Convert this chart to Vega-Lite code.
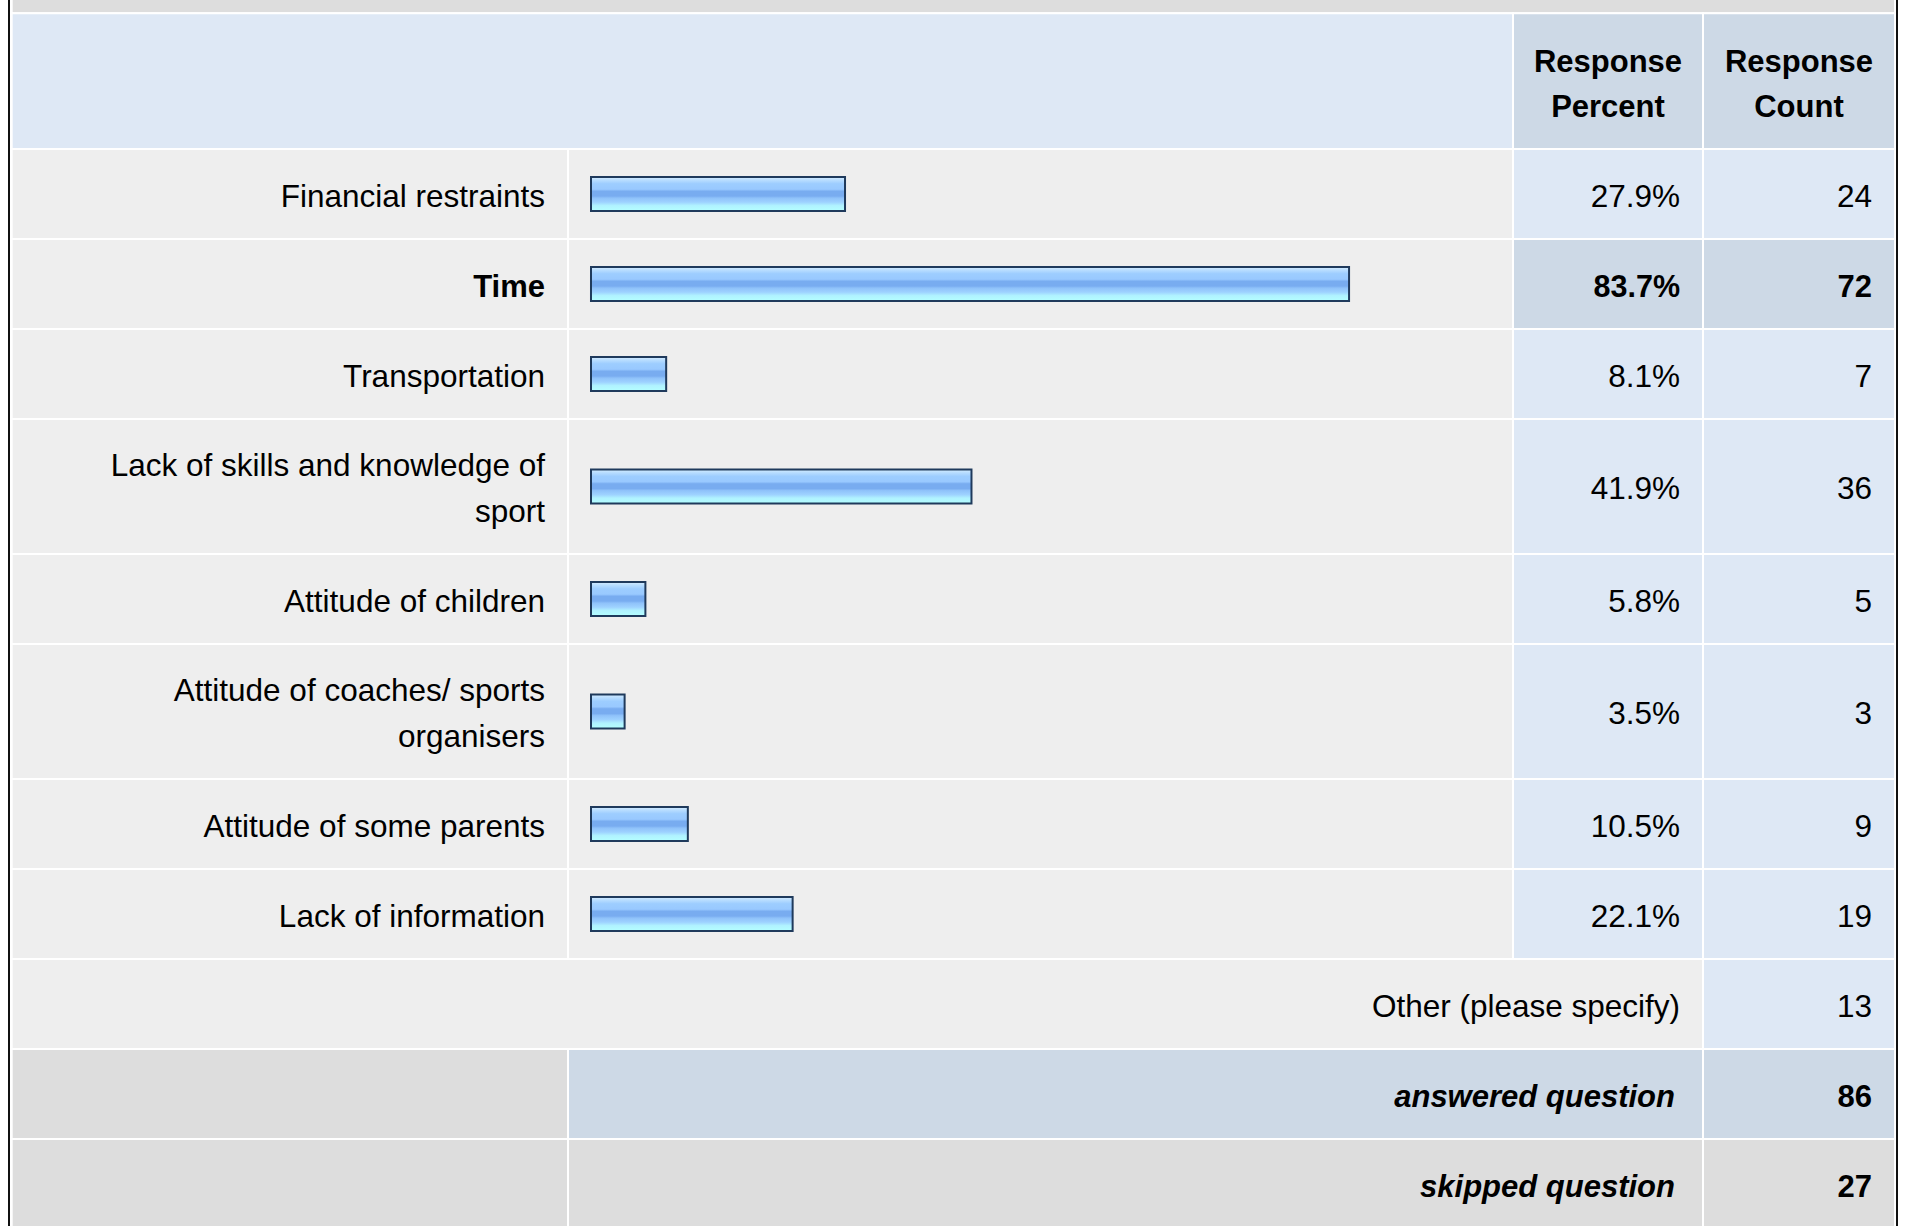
{
  "$schema": "https://vega.github.io/schema/vega-lite/v6.json",
  "width": 1909,
  "height": 1226,
  "autosize": {"type": "none"},
  "padding": 0,
  "background": "#ffffff",
  "config": {
    "view": {"stroke": null},
    "text": {"font": "Liberation Sans", "fontSize": 31.5, "fill": "#000000"}
  },
  "datasets": {
    "options": [
      {"row": 1, "label": "Financial restraints", "pct": 0.279, "count": 24},
      {"row": 2, "label": "Time", "pct": 0.837, "count": 72},
      {"row": 3, "label": "Transportation", "pct": 0.081, "count": 7},
      {"row": 4, "label": "Lack of skills and knowledge of\nsport", "pct": 0.419, "count": 36},
      {"row": 5, "label": "Attitude of children", "pct": 0.058, "count": 5},
      {"row": 6, "label": "Attitude of coaches/ sports\norganisers", "pct": 0.035, "count": 3},
      {"row": 7, "label": "Attitude of some parents", "pct": 0.105, "count": 9},
      {"row": 8, "label": "Lack of information", "pct": 0.221, "count": 19}
    ],
    "summary": [
      {"row": 9, "label": "Other (please specify)", "count": 13, "kind": "other"},
      {"row": 10, "label": "answered question", "count": 86, "kind": "total"},
      {"row": 11, "label": "skipped question", "count": 27, "kind": "total"}
    ],
    "cells": [
      {"row": -1, "c0": 0, "c1": 4, "role": "frame"},
      {"row": 0, "c0": 0, "c1": 2, "role": "head"},
      {"row": 0, "c0": 2, "c1": 3, "role": "head value", "text": "Response\nPercent"},
      {"row": 0, "c0": 3, "c1": 4, "role": "head value", "text": "Response\nCount"},
      {"row": 1, "c0": 0, "c1": 1, "role": "option"},
      {"row": 1, "c0": 1, "c1": 2, "role": "option"},
      {"row": 1, "c0": 2, "c1": 3, "role": "value"},
      {"row": 1, "c0": 3, "c1": 4, "role": "value"},
      {"row": 2, "c0": 0, "c1": 1, "role": "option"},
      {"row": 2, "c0": 1, "c1": 2, "role": "option"},
      {"row": 2, "c0": 2, "c1": 3, "role": "top value"},
      {"row": 2, "c0": 3, "c1": 4, "role": "top value"},
      {"row": 3, "c0": 0, "c1": 1, "role": "option"},
      {"row": 3, "c0": 1, "c1": 2, "role": "option"},
      {"row": 3, "c0": 2, "c1": 3, "role": "value"},
      {"row": 3, "c0": 3, "c1": 4, "role": "value"},
      {"row": 4, "c0": 0, "c1": 1, "role": "option"},
      {"row": 4, "c0": 1, "c1": 2, "role": "option"},
      {"row": 4, "c0": 2, "c1": 3, "role": "value"},
      {"row": 4, "c0": 3, "c1": 4, "role": "value"},
      {"row": 5, "c0": 0, "c1": 1, "role": "option"},
      {"row": 5, "c0": 1, "c1": 2, "role": "option"},
      {"row": 5, "c0": 2, "c1": 3, "role": "value"},
      {"row": 5, "c0": 3, "c1": 4, "role": "value"},
      {"row": 6, "c0": 0, "c1": 1, "role": "option"},
      {"row": 6, "c0": 1, "c1": 2, "role": "option"},
      {"row": 6, "c0": 2, "c1": 3, "role": "value"},
      {"row": 6, "c0": 3, "c1": 4, "role": "value"},
      {"row": 7, "c0": 0, "c1": 1, "role": "option"},
      {"row": 7, "c0": 1, "c1": 2, "role": "option"},
      {"row": 7, "c0": 2, "c1": 3, "role": "value"},
      {"row": 7, "c0": 3, "c1": 4, "role": "value"},
      {"row": 8, "c0": 0, "c1": 1, "role": "option"},
      {"row": 8, "c0": 1, "c1": 2, "role": "option"},
      {"row": 8, "c0": 2, "c1": 3, "role": "value"},
      {"row": 8, "c0": 3, "c1": 4, "role": "value"},
      {"row": 9, "c0": 0, "c1": 3, "role": "option"},
      {"row": 9, "c0": 3, "c1": 4, "role": "value"},
      {"row": 10, "c0": 0, "c1": 1, "role": "total"},
      {"row": 10, "c0": 1, "c1": 3, "role": "answered"},
      {"row": 10, "c0": 3, "c1": 4, "role": "answered"},
      {"row": 11, "c0": 0, "c1": 1, "role": "total"},
      {"row": 11, "c0": 1, "c1": 3, "role": "total"},
      {"row": 11, "c0": 3, "c1": 4, "role": "total"}
    ],
    "edges": [{"edge": -1}, {"edge": 5}]
  },
  "resolve": {"scale": {"x": "independent"}},
  "layer": [
    {
      "data": {"name": "cells"},
      "transform": [{"calculate": "datum.row + 1", "as": "row_end"}],
      "mark": {"type": "rect", "stroke": "#ffffff", "strokeWidth": 2},
      "encoding": {
        "x": {"field": "c0", "type": "quantitative", "axis": null, "scale": {"domain": [-1, 0, 1, 2, 3, 4, 5], "range": [9, 11.7, 568, 1513, 1703, 1895, 1897], "nice": false, "zero": false}},
        "x2": {"field": "c1"},
        "y": {"field": "row", "type": "quantitative", "axis": null, "scale": {"domain": [-1, 0, 1, 2, 3, 4, 5, 6, 7, 8, 9, 10, 11, 12], "range": [-20, 13.3, 149, 239, 329, 419, 554, 644, 779, 869, 959, 1049, 1139, 1229], "nice": false, "zero": false}},
        "y2": {"field": "row_end"},
        "fill": {"field": "role", "type": "nominal", "legend": null, "scale": {"domain": ["frame", "head", "head value", "option", "value", "top value", "answered", "total"], "range": ["#dddddd", "#dee8f5", "#cdd9e6", "#eeeeee", "#dee8f5", "#cdd9e6", "#cdd9e6", "#dddddd"]}}
      }
    },
    {
      "data": {"name": "edges"},
      "mark": {"type": "rule", "color": "#111111", "strokeWidth": 2},
      "encoding": {
        "x": {"field": "edge", "type": "quantitative", "axis": null, "scale": {"domain": [-1, 0, 1, 2, 3, 4, 5], "range": [9, 11.7, 568, 1513, 1703, 1895, 1897], "nice": false, "zero": false}}
      }
    },
    {
      "data": {"name": "cells"},
      "transform": [
        {"filter": "isValid(datum.text)"},
        {"calculate": "(datum.c0 + datum.c1) / 2", "as": "cmid"},
        {"calculate": "datum.row + 0.5", "as": "mid"}
      ],
      "mark": {"type": "text", "align": "center", "baseline": "middle", "fontWeight": "bold", "fontSize": 31, "lineBreak": "\n", "lineHeight": 45, "dy": -18},
      "encoding": {
        "x": {"field": "cmid", "type": "quantitative", "axis": null, "scale": {"domain": [-1, 0, 1, 2, 3, 4, 5], "range": [9, 11.7, 568, 1513, 1703, 1895, 1897], "nice": false, "zero": false}},
        "y": {"field": "mid", "type": "quantitative", "axis": null, "scale": {"domain": [-1, 0, 1, 2, 3, 4, 5, 6, 7, 8, 9, 10, 11, 12], "range": [-20, 13.3, 149, 239, 329, 419, 554, 644, 779, 869, 959, 1049, 1139, 1229], "nice": false, "zero": false}},
        "text": {"field": "text", "type": "nominal"}
      }
    },
    {
      "data": {"name": "options"},
      "transform": [{"calculate": "datum.row + 0.5", "as": "mid"}],
      "mark": {
        "type": "rect",
        "stroke": "#1f3a5c",
        "strokeWidth": 2,
        "yOffset": -17,
        "y2Offset": 17,
        "x2Offset": -2,
        "fill": {
          "gradient": "linear", "x1": 0, "y1": 0, "x2": 0, "y2": 1,
          "stops": [
            {"offset": 0, "color": "#d4ecff"},
            {"offset": 0.1, "color": "#b6dcff"},
            {"offset": 0.2, "color": "#9dcdff"},
            {"offset": 0.36, "color": "#99c9ff"},
            {"offset": 0.42, "color": "#78acf0"},
            {"offset": 0.56, "color": "#78acf0"},
            {"offset": 0.62, "color": "#8fc2fa"},
            {"offset": 0.74, "color": "#9ed2ff"},
            {"offset": 0.84, "color": "#b0f2ff"},
            {"offset": 1, "color": "#b4ffff"}
          ]
        }
      },
      "encoding": {
        "x": {"field": "pct", "type": "quantitative", "axis": null, "scale": {"domain": [0, 1], "range": [593, 1496.3], "nice": false, "zero": false}},
        "x2": {"datum": 0},
        "y": {"field": "mid", "type": "quantitative", "axis": null, "scale": {"domain": [-1, 0, 1, 2, 3, 4, 5, 6, 7, 8, 9, 10, 11, 12], "range": [-20, 13.3, 149, 239, 329, 419, 554, 644, 779, 869, 959, 1049, 1139, 1229], "nice": false, "zero": false}},
        "y2": {"field": "mid"}
      }
    },
    {
      "data": {"name": "options"},
      "transform": [
        {"joinaggregate": [{"op": "max", "field": "count", "as": "maxCount"}]},
        {"filter": "datum.count < datum.maxCount && indexof(datum.label, '\\n') < 0"},
        {"calculate": "datum.row + 0.5", "as": "mid"}
      ],
      "mark": {"type": "text", "align": "right", "baseline": "middle", "dx": -23, "dy": 3.5},
      "encoding": {
        "x": {"datum": 1, "type": "quantitative", "axis": null, "scale": {"domain": [-1, 0, 1, 2, 3, 4, 5], "range": [9, 11.7, 568, 1513, 1703, 1895, 1897], "nice": false, "zero": false}},
        "y": {"field": "mid", "type": "quantitative", "axis": null, "scale": {"domain": [-1, 0, 1, 2, 3, 4, 5, 6, 7, 8, 9, 10, 11, 12], "range": [-20, 13.3, 149, 239, 329, 419, 554, 644, 779, 869, 959, 1049, 1139, 1229], "nice": false, "zero": false}},
        "text": {"field": "label", "type": "nominal"}
      }
    },
    {
      "data": {"name": "options"},
      "transform": [
        {"joinaggregate": [{"op": "max", "field": "count", "as": "maxCount"}]},
        {"filter": "datum.count < datum.maxCount && indexof(datum.label, '\\n') >= 0"},
        {"calculate": "datum.row + 0.5", "as": "mid"}
      ],
      "mark": {"type": "text", "align": "right", "baseline": "middle", "dx": -23, "dy": -20, "lineBreak": "\n", "lineHeight": 46},
      "encoding": {
        "x": {"datum": 1, "type": "quantitative", "axis": null, "scale": {"domain": [-1, 0, 1, 2, 3, 4, 5], "range": [9, 11.7, 568, 1513, 1703, 1895, 1897], "nice": false, "zero": false}},
        "y": {"field": "mid", "type": "quantitative", "axis": null, "scale": {"domain": [-1, 0, 1, 2, 3, 4, 5, 6, 7, 8, 9, 10, 11, 12], "range": [-20, 13.3, 149, 239, 329, 419, 554, 644, 779, 869, 959, 1049, 1139, 1229], "nice": false, "zero": false}},
        "text": {"field": "label", "type": "nominal"}
      }
    },
    {
      "data": {"name": "options"},
      "transform": [
        {"joinaggregate": [{"op": "max", "field": "count", "as": "maxCount"}]},
        {"filter": "datum.count < datum.maxCount"},
        {"calculate": "datum.row + 0.5", "as": "mid"}
      ],
      "mark": {"type": "text", "align": "right", "baseline": "middle", "dx": -23, "dy": 3.5},
      "encoding": {
        "x": {"datum": 3, "type": "quantitative", "axis": null, "scale": {"domain": [-1, 0, 1, 2, 3, 4, 5], "range": [9, 11.7, 568, 1513, 1703, 1895, 1897], "nice": false, "zero": false}},
        "y": {"field": "mid", "type": "quantitative", "axis": null, "scale": {"domain": [-1, 0, 1, 2, 3, 4, 5, 6, 7, 8, 9, 10, 11, 12], "range": [-20, 13.3, 149, 239, 329, 419, 554, 644, 779, 869, 959, 1049, 1139, 1229], "nice": false, "zero": false}},
        "text": {"field": "pct", "type": "quantitative", "format": ".1%"}
      }
    },
    {
      "data": {"name": "options"},
      "transform": [
        {"joinaggregate": [{"op": "max", "field": "count", "as": "maxCount"}]},
        {"filter": "datum.count < datum.maxCount"},
        {"calculate": "datum.row + 0.5", "as": "mid"}
      ],
      "mark": {"type": "text", "align": "right", "baseline": "middle", "dx": -23, "dy": 3.5},
      "encoding": {
        "x": {"datum": 4, "type": "quantitative", "axis": null, "scale": {"domain": [-1, 0, 1, 2, 3, 4, 5], "range": [9, 11.7, 568, 1513, 1703, 1895, 1897], "nice": false, "zero": false}},
        "y": {"field": "mid", "type": "quantitative", "axis": null, "scale": {"domain": [-1, 0, 1, 2, 3, 4, 5, 6, 7, 8, 9, 10, 11, 12], "range": [-20, 13.3, 149, 239, 329, 419, 554, 644, 779, 869, 959, 1049, 1139, 1229], "nice": false, "zero": false}},
        "text": {"field": "count", "type": "quantitative", "format": "d"}
      }
    },
    {
      "data": {"name": "options"},
      "transform": [
        {"joinaggregate": [{"op": "max", "field": "count", "as": "maxCount"}]},
        {"filter": "datum.count == datum.maxCount"},
        {"calculate": "datum.row + 0.5", "as": "mid"}
      ],
      "mark": {"type": "text", "align": "right", "baseline": "middle", "dx": -23, "dy": 3.5, "fontWeight": "bold", "fontSize": 31},
      "encoding": {
        "x": {"datum": 1, "type": "quantitative", "axis": null, "scale": {"domain": [-1, 0, 1, 2, 3, 4, 5], "range": [9, 11.7, 568, 1513, 1703, 1895, 1897], "nice": false, "zero": false}},
        "y": {"field": "mid", "type": "quantitative", "axis": null, "scale": {"domain": [-1, 0, 1, 2, 3, 4, 5, 6, 7, 8, 9, 10, 11, 12], "range": [-20, 13.3, 149, 239, 329, 419, 554, 644, 779, 869, 959, 1049, 1139, 1229], "nice": false, "zero": false}},
        "text": {"field": "label", "type": "nominal"}
      }
    },
    {
      "data": {"name": "options"},
      "transform": [
        {"joinaggregate": [{"op": "max", "field": "count", "as": "maxCount"}]},
        {"filter": "datum.count == datum.maxCount"},
        {"calculate": "datum.row + 0.5", "as": "mid"}
      ],
      "mark": {"type": "text", "align": "right", "baseline": "middle", "dx": -23, "dy": 3.5, "fontWeight": "bold", "fontSize": 30.5},
      "encoding": {
        "x": {"datum": 3, "type": "quantitative", "axis": null, "scale": {"domain": [-1, 0, 1, 2, 3, 4, 5], "range": [9, 11.7, 568, 1513, 1703, 1895, 1897], "nice": false, "zero": false}},
        "y": {"field": "mid", "type": "quantitative", "axis": null, "scale": {"domain": [-1, 0, 1, 2, 3, 4, 5, 6, 7, 8, 9, 10, 11, 12], "range": [-20, 13.3, 149, 239, 329, 419, 554, 644, 779, 869, 959, 1049, 1139, 1229], "nice": false, "zero": false}},
        "text": {"field": "pct", "type": "quantitative", "format": ".1%"}
      }
    },
    {
      "data": {"name": "options"},
      "transform": [
        {"joinaggregate": [{"op": "max", "field": "count", "as": "maxCount"}]},
        {"filter": "datum.count == datum.maxCount"},
        {"calculate": "datum.row + 0.5", "as": "mid"}
      ],
      "mark": {"type": "text", "align": "right", "baseline": "middle", "dx": -23, "dy": 3.5, "fontWeight": "bold", "fontSize": 31},
      "encoding": {
        "x": {"datum": 4, "type": "quantitative", "axis": null, "scale": {"domain": [-1, 0, 1, 2, 3, 4, 5], "range": [9, 11.7, 568, 1513, 1703, 1895, 1897], "nice": false, "zero": false}},
        "y": {"field": "mid", "type": "quantitative", "axis": null, "scale": {"domain": [-1, 0, 1, 2, 3, 4, 5, 6, 7, 8, 9, 10, 11, 12], "range": [-20, 13.3, 149, 239, 329, 419, 554, 644, 779, 869, 959, 1049, 1139, 1229], "nice": false, "zero": false}},
        "text": {"field": "count", "type": "quantitative", "format": "d"}
      }
    },
    {
      "data": {"name": "summary"},
      "transform": [
        {"filter": "datum.kind == 'other'"},
        {"calculate": "datum.row + 0.5", "as": "mid"}
      ],
      "mark": {"type": "text", "align": "right", "baseline": "middle", "dx": -23, "dy": 3.5},
      "encoding": {
        "x": {"datum": 3, "type": "quantitative", "axis": null, "scale": {"domain": [-1, 0, 1, 2, 3, 4, 5], "range": [9, 11.7, 568, 1513, 1703, 1895, 1897], "nice": false, "zero": false}},
        "y": {"field": "mid", "type": "quantitative", "axis": null, "scale": {"domain": [-1, 0, 1, 2, 3, 4, 5, 6, 7, 8, 9, 10, 11, 12], "range": [-20, 13.3, 149, 239, 329, 419, 554, 644, 779, 869, 959, 1049, 1139, 1229], "nice": false, "zero": false}},
        "text": {"field": "label", "type": "nominal"}
      }
    },
    {
      "data": {"name": "summary"},
      "transform": [
        {"filter": "datum.kind == 'other'"},
        {"calculate": "datum.row + 0.5", "as": "mid"}
      ],
      "mark": {"type": "text", "align": "right", "baseline": "middle", "dx": -23, "dy": 3.5},
      "encoding": {
        "x": {"datum": 4, "type": "quantitative", "axis": null, "scale": {"domain": [-1, 0, 1, 2, 3, 4, 5], "range": [9, 11.7, 568, 1513, 1703, 1895, 1897], "nice": false, "zero": false}},
        "y": {"field": "mid", "type": "quantitative", "axis": null, "scale": {"domain": [-1, 0, 1, 2, 3, 4, 5, 6, 7, 8, 9, 10, 11, 12], "range": [-20, 13.3, 149, 239, 329, 419, 554, 644, 779, 869, 959, 1049, 1139, 1229], "nice": false, "zero": false}},
        "text": {"field": "count", "type": "quantitative", "format": "d"}
      }
    },
    {
      "data": {"name": "summary"},
      "transform": [
        {"filter": "datum.kind == 'total'"},
        {"calculate": "datum.row + 0.5", "as": "mid"}
      ],
      "mark": {"type": "text", "align": "right", "baseline": "middle", "dx": -28, "dy": 3.5, "fontWeight": "bold", "fontStyle": "italic", "fontSize": 31},
      "encoding": {
        "x": {"datum": 3, "type": "quantitative", "axis": null, "scale": {"domain": [-1, 0, 1, 2, 3, 4, 5], "range": [9, 11.7, 568, 1513, 1703, 1895, 1897], "nice": false, "zero": false}},
        "y": {"field": "mid", "type": "quantitative", "axis": null, "scale": {"domain": [-1, 0, 1, 2, 3, 4, 5, 6, 7, 8, 9, 10, 11, 12], "range": [-20, 13.3, 149, 239, 329, 419, 554, 644, 779, 869, 959, 1049, 1139, 1229], "nice": false, "zero": false}},
        "text": {"field": "label", "type": "nominal"}
      }
    },
    {
      "data": {"name": "summary"},
      "transform": [
        {"filter": "datum.kind == 'total'"},
        {"calculate": "datum.row + 0.5", "as": "mid"}
      ],
      "mark": {"type": "text", "align": "right", "baseline": "middle", "dx": -23, "dy": 3.5, "fontWeight": "bold", "fontSize": 31},
      "encoding": {
        "x": {"datum": 4, "type": "quantitative", "axis": null, "scale": {"domain": [-1, 0, 1, 2, 3, 4, 5], "range": [9, 11.7, 568, 1513, 1703, 1895, 1897], "nice": false, "zero": false}},
        "y": {"field": "mid", "type": "quantitative", "axis": null, "scale": {"domain": [-1, 0, 1, 2, 3, 4, 5, 6, 7, 8, 9, 10, 11, 12], "range": [-20, 13.3, 149, 239, 329, 419, 554, 644, 779, 869, 959, 1049, 1139, 1229], "nice": false, "zero": false}},
        "text": {"field": "count", "type": "quantitative", "format": "d"}
      }
    }
  ]
}
